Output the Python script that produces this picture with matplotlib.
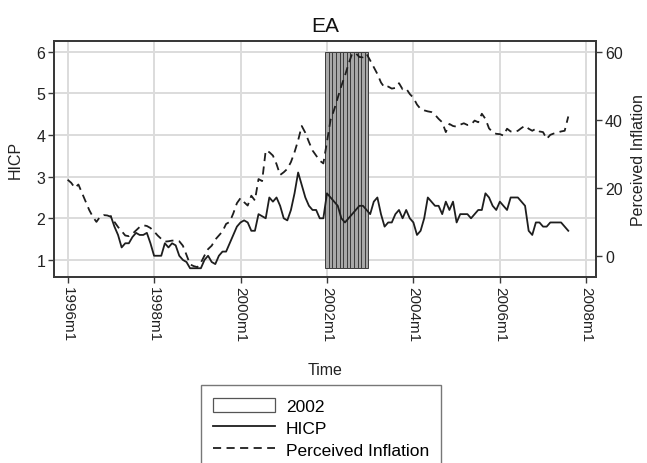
import numpy as np
import matplotlib
matplotlib.use("Agg")
import matplotlib.pyplot as plt
from matplotlib.patches import Patch
from matplotlib.lines import Line2D

plt.rcParams['font.family'] = ['Liberation Sans', 'DejaVu Sans']

# Monthly series; month index counted from 1996m1
pi_start = 0        # perceived inflation starts 1996m1
hicp_start = 12     # HICP starts 1997m1

perceived_inflation = [
    # 1996
    22.4, 21.5, 20.0, 21.0, 18.5, 16.0, 13.5, 11.5, 10.0, 11.5, 12.0, 11.9,
    # 1997
    11.5, 10.0, 8.5, 7.3, 6.0, 5.8, 6.5, 7.5, 8.5, 9.0, 8.8, 8.2,
    # 1998
    7.2, 6.0, 5.0, 4.2, 4.3, 4.5, 4.5, 4.3, 3.0, 0.3, -2.5, -3.0,
    # 1999
    -3.3, -2.0, 0.1, 2.0, 3.0, 4.8, 6.0, 7.2, 9.4, 10.0, 12.5, 15.5,
    # 2000
    17.0, 15.8, 14.8, 17.7, 16.3, 22.6, 22.0, 31.0, 30.5, 29.5, 27.0, 23.8,
    # 2001
    24.6, 25.6, 27.6, 30.5, 34.0, 38.2, 36.2, 33.5, 31.0, 29.5, 28.0, 27.2,
    # 2002
    33.5, 40.0, 43.0, 46.5, 50.0, 53.0, 56.5, 59.5, 59.6, 58.5, 58.4, 59.4,
    # 2003
    57.5, 55.5, 53.5, 51.0, 49.5, 49.8, 49.2, 49.4, 50.8, 49.0, 49.2, 47.6,
    # 2004
    46.5, 44.5, 43.2, 42.8, 42.5, 42.3, 41.5, 40.3, 39.3, 36.4, 38.8, 38.2,
    # 2005
    38.0, 38.6, 39.0, 38.5, 38.6, 39.8, 39.3, 41.8, 40.3, 37.5, 36.4, 35.9,
    # 2006
    35.8, 35.4, 37.4, 36.6, 36.4, 36.8, 37.6, 38.3, 37.4, 36.8, 37.4, 36.6,
    # 2007
    36.4, 34.4, 35.6, 36.0, 36.3, 36.6, 36.8, 41.0,
]

hicp = [
    # 1997
    2.05, 1.8, 1.6, 1.3, 1.4, 1.4, 1.55, 1.65, 1.6, 1.6, 1.65, 1.4,
    # 1998
    1.1, 1.1, 1.1, 1.4, 1.3, 1.4, 1.35, 1.1, 1.0, 0.95, 0.8, 0.8,
    # 1999
    0.8, 0.8, 1.0, 1.1, 0.95, 0.9, 1.1, 1.2, 1.2, 1.4, 1.6, 1.8,
    # 2000
    1.9, 1.95, 1.9, 1.7, 1.7, 2.1, 2.05, 2.0, 2.5, 2.4, 2.5, 2.3,
    # 2001
    2.0, 1.95, 2.2, 2.6, 3.1, 2.8, 2.5, 2.3, 2.2, 2.2, 2.0, 2.0,
    # 2002
    2.6, 2.5, 2.4, 2.3, 2.0, 1.9, 2.0, 2.1, 2.2, 2.3, 2.3, 2.2,
    # 2003
    2.1, 2.4, 2.5, 2.1, 1.8, 1.9, 1.9, 2.1, 2.2, 2.0, 2.2, 2.0,
    # 2004
    1.9, 1.6, 1.7, 2.0, 2.5, 2.4, 2.3, 2.3, 2.1, 2.4, 2.2, 2.4,
    # 2005
    1.9, 2.1, 2.1, 2.1, 2.0, 2.1, 2.2, 2.2, 2.6, 2.5, 2.3, 2.2,
    # 2006
    2.4, 2.3, 2.2, 2.5, 2.5, 2.5, 2.4, 2.3, 1.7, 1.6, 1.9, 1.9,
    # 2007
    1.8, 1.8, 1.9, 1.9, 1.9, 1.9, 1.8, 1.7,
]

# Shaded period: the twelve months of 2002
shade_months = list(range(72, 84))
shade_low, shade_high = 0.8, 6.0

x_tick_pos = [0, 24, 48, 72, 96, 120, 144]
x_tick_labels = ["1996m1", "1998m1", "2000m1", "2002m1", "2004m1", "2006m1", "2008m1"]
left_ticks = [1, 2, 3, 4, 5, 6]
right_ticks = [0, 20, 40, 60]

line_col = "#1e1e1e"
frame_col = "#3a3a3a"
text_col = "#222222"

fig = plt.figure(figsize=(6.47, 4.64), dpi=100)
ax = fig.add_axes([0.0839, 0.4009, 0.8373, 0.5086])
ax2 = ax.twinx()

# Shaded 2002 bars
ax.bar(shade_months, [shade_high - shade_low] * len(shade_months), bottom=shade_low,
       width=1.0, color="#a8a8a8", edgecolor="#3c3c3c", linewidth=0.7, zorder=2)

x_hicp = np.arange(hicp_start, hicp_start + len(hicp))
x_pi = np.arange(pi_start, pi_start + len(perceived_inflation))
ax.plot(x_hicp, hicp, color=line_col, lw=1.3, zorder=3)
ax2.plot(x_pi, perceived_inflation, color=line_col, lw=1.3, linestyle=(0, (4.5, 3.0)), zorder=3)

ax.set_xlim(-3.7, 146.7)
ax.set_ylim(0.59, 6.26)
ax2.set_ylim(-6.2, 63.2)

ax.set_xticks(x_tick_pos)
ax.set_xticklabels(x_tick_labels, rotation=-90, fontsize=11)
ax.set_yticks(left_ticks)
ax.set_yticklabels([str(t) for t in left_ticks], fontsize=11.5)
ax2.set_yticks(right_ticks)
ax2.set_yticklabels([str(t) for t in right_ticks], fontsize=11.5)

ax.grid(True, color="#dcdcdc", lw=1.4, zorder=0)
ax.set_axisbelow(True)

for a in (ax, ax2):
    for s in a.spines.values():
        s.set_color(frame_col)
        s.set_linewidth(1.4)
    a.tick_params(direction="out", length=4.5, width=1.0, color=frame_col, colors=text_col, pad=2)

ax.set_xlabel("Time", fontsize=11.5, labelpad=15, color=text_col)
ax.set_ylabel("HICP", fontsize=11.5, labelpad=10, color=text_col)
ax2.set_ylabel("Perceived Inflation", fontsize=11.5, labelpad=6, color=text_col)
ax.set_title("EA", fontsize=15, pad=7, color="#111111")

handles = [
    Patch(facecolor="white", edgecolor="#555555", linewidth=0.9),
    Line2D([], [], color=line_col, lw=1.3),
    Line2D([], [], color=line_col, lw=1.3, linestyle=(0, (4.5, 3.0))),
]
labels = ["2002", "HICP", "Perceived Inflation"]
leg = fig.legend(handles, labels, loc="upper center", bbox_to_anchor=(0.496, 0.186),
                 fontsize=12.5, frameon=True, fancybox=False, edgecolor="#555555",
                 handlelength=3.6, handleheight=0.9, handletextpad=0.6,
                 labelspacing=0.33, borderpad=0.7)
leg.get_frame().set_linewidth(1.0)

fig.savefig("out.png", dpi=100)
